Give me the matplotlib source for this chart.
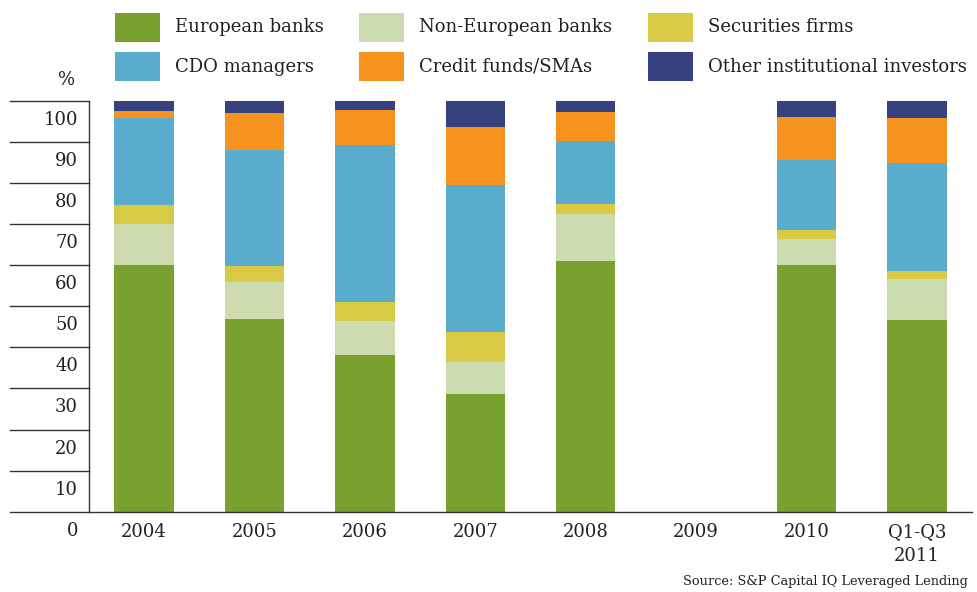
import matplotlib
matplotlib.use("Agg")
import matplotlib.pyplot as plt
from matplotlib.patches import Rectangle
from matplotlib.lines import Line2D
from matplotlib.transforms import ScaledTranslation
import numpy as np

# Investor shares (% of primary leveraged loan allocations)
periods = ["2004", "2005", "2006", "2007", "2008", "2009", "2010", "Q1-Q3\n2011"]
european_banks = [60.0, 46.9, 38.2, 28.7, 61.0, 0.0, 60.1, 46.7]
non_european_banks = [10.0, 9.0, 8.2, 7.8, 11.5, 0.0, 6.3, 10.0]
securities_firms = [4.7, 3.9, 4.7, 7.3, 2.4, 0.0, 2.2, 1.9]
cdo_managers = [21.2, 28.3, 38.2, 35.7, 15.4, 0.0, 17.0, 26.3]
credit_funds = [1.7, 9.0, 8.5, 14.2, 7.0, 0.0, 10.5, 10.9]
other_investors = [2.4, 2.9, 2.2, 6.3, 2.7, 0.0, 3.9, 4.2]

series_names = ["European banks", "Non-European banks", "Securities firms",
                "CDO managers", "Credit funds/SMAs", "Other institutional investors"]
series_values = [european_banks, non_european_banks, securities_firms,
                 cdo_managers, credit_funds, other_investors]
colors = ["#7AA02F", "#CDDCB0", "#D8CA45", "#5AACCD", "#F7921E", "#35427F"]
y_ticks = list(range(0, 101, 10))

TEXT = "#231F20"
LINE = "#333333"
FONT = "DejaVu Serif"
plt.rcParams["font.family"] = [FONT]

W, H = 978, 592
fig = plt.figure(figsize=(W / 100, H / 100), dpi=100)


def fx(px):
    return px / W


def fy(py):
    return 1 - py / H


ax_left, ax_right, ax_top, ax_bottom = 89, 972, 101, 511.7
ax = fig.add_axes([fx(ax_left), fy(ax_bottom), fx(ax_right - ax_left),
                   (ax_bottom - ax_top) / H])

x = np.arange(len(periods))
bottom = np.zeros(len(periods))
for name, vals, c in zip(series_names, series_values, colors):
    vals = np.asarray(vals, dtype=float)
    ax.bar(x, vals, width=0.54, bottom=bottom, color=c, linewidth=0, label=name)
    bottom += vals

ax.set_xlim(-0.5, len(periods) - 0.5)
ax.set_ylim(0, 100)
ax.set_xticks(x)
ax.set_xticklabels(periods, fontsize=13, color=TEXT, linespacing=1.45)
ax.set_yticks(y_ticks)
ax.set_yticklabels([str(v) for v in y_ticks], fontsize=13, color=TEXT)
ax.tick_params(axis="both", length=0)
ax.tick_params(axis="y", pad=8)
ax.tick_params(axis="x", pad=8)
for lab in ax.get_yticklabels():
    lab.set_transform(lab.get_transform() +
                      ScaledTranslation(0, -17 / 100, fig.dpi_scale_trans))

for side in ["top", "right", "bottom"]:
    ax.spines[side].set_visible(False)
ax.spines["left"].set_color(LINE)
ax.spines["left"].set_linewidth(1.0)

# horizontal rules in the label column, and the base line across the chart
for v in y_ticks[1:]:
    ax.plot([-0.0895, 0], [v, v], transform=ax.get_yaxis_transform(),
            color=LINE, lw=1.0, clip_on=False)
fig.add_artist(Line2D([fx(10), fx(ax_right)], [fy(ax_bottom), fy(ax_bottom)],
                      color=LINE, lw=1.0, transform=fig.transFigure))

fig.text(fx(67), fy(80), "%", ha="center", va="center", fontsize=13, color=TEXT)

# legend: three columns, two rows
col_x = [115, 359, 648]
row_y = [13, 52]
order = [(0, 0), (0, 1), (0, 2), (1, 0), (1, 1), (1, 2)]
for (r, cidx), name, c in zip(order, series_names, colors):
    px, py = col_x[cidx], row_y[r]
    fig.add_artist(Rectangle((fx(px), fy(py + 29)), 45 / W, 29 / H,
                             facecolor=c, edgecolor="none",
                             transform=fig.transFigure))
    fig.text(fx(px + 60), fy(py + 14.5), name, ha="left", va="center",
             fontsize=13, color=TEXT)

fig.text(fx(968), fy(581), "Source: S&P Capital IQ Leveraged Lending",
         ha="right", va="center", fontsize=9.3, color=TEXT)

fig.savefig("out.png", dpi=100)
